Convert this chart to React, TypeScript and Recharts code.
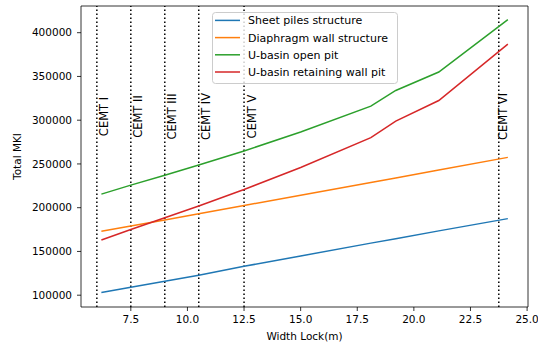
import React from "react";
import {
  LineChart,
  Line,
  XAxis,
  YAxis,
  ReferenceLine,
  Label,
} from "recharts";

const widths = [6.2, 7.5, 9.0, 10.5, 12.5, 15.0, 18.1, 19.2, 21.1, 24.15];
const sheetPiles = [103000, 109000, 115800, 122700, 133000, 144800, 159500, 164600, 173500, 187500];
const diaphragmWall = [173000, 179000, 186000, 193000, 202500, 214200, 228800, 234000, 243000, 257500];
const openPit = [215500, 225800, 237000, 248700, 264800, 286500, 316000, 334000, 355000, 415000];
const retainingWallPit = [163000, 175000, 188500, 202000, 220800, 246000, 280000, 299000, 322500, 387000];

const seriesNames = [
  "Sheet piles structure",
  "Diaphragm wall structure",
  "U-basin open pit",
  "U-basin retaining wall pit",
];
const seriesKeys = ["sheet", "diaphragm", "open", "retaining"];
const seriesColors = ["#1f77b4", "#ff7f0e", "#2ca02c", "#d62728"];

const cemtPositions = [6.0, 7.5, 9.0, 10.5, 12.5, 23.75];
const cemtLabels = ["CEMT I", "CEMT II", "CEMT III", "CEMT IV", "CEMT V", "CEMT VI"];
const cemtLabelOffsets = [11, 11.5, 11.5, 11.5, 11.5, 8.5];

const xTicks = [7.5, 10, 12.5, 15, 17.5, 20, 22.5, 25];
const yTicks = [100000, 150000, 200000, 250000, 300000, 350000, 400000];

const X_DOMAIN: [number, number] = [5.3, 25.04];
const Y_DOMAIN: [number, number] = [86500, 430500];

const data = widths.map((w, i) => ({
  x: w,
  sheet: sheetPiles[i],
  diaphragm: diaphragmWall[i],
  open: openPit[i],
  retaining: retainingWallPit[i],
}));

const FONT = "DejaVu Sans, sans-serif";

const LegendBox = () => (
  <svg width={187} height={73} style={{ display: "block" }}>
    <rect
      x={0.5}
      y={0.5}
      width={185}
      height={71}
      rx={3}
      ry={3}
      fill="rgba(255,255,255,0.8)"
      stroke="#cccccc"
      strokeWidth={1}
    />
    {seriesNames.map((n, i) => (
      <g key={n}>
        <line
          x1={3}
          x2={28}
          y1={8.4 + i * 17.2}
          y2={8.4 + i * 17.2}
          stroke={seriesColors[i]}
          strokeWidth={1.5}
        />
        <text
          x={36}
          y={8.4 + i * 17.2}
          dy="0.36em"
          fontSize={11}
          fontFamily={FONT}
          fill="#000"
        >
          {n}
        </text>
      </g>
    ))}
  </svg>
);

export default function App() {
  return (
    <div style={{ position: "absolute", left: 0, top: 0, width: 538, height: 347 }}>
      <LineChart
        width={538}
        height={347}
        data={data}
        margin={{ top: 6, right: 10, bottom: 0, left: 0 }}
        style={{ fontFamily: FONT }}
      >
        <XAxis
          dataKey="x"
          type="number"
          domain={X_DOMAIN}
          ticks={xTicks}
          allowDataOverflow
          tickFormatter={(v: number) => v.toFixed(1)}
          height={40}
          tickSize={4}
          tickMargin={5}
          stroke="#000"
          strokeWidth={0.8}
          tick={{ fill: "#000", fontSize: 10.5, fontFamily: FONT }}
        >
          <Label
            content={(props: any) => {
              const vb = props.viewBox || {};
              return (
                <text
                  x={vb.x + vb.width / 2}
                  y={340}
                  textAnchor="middle"
                  fontSize={10.5}
                  fontFamily={FONT}
                  fill="#000"
                >
                  Width Lock(m)
                </text>
              );
            }}
          />
        </XAxis>
        <YAxis
          type="number"
          domain={Y_DOMAIN}
          ticks={yTicks}
          allowDataOverflow
          width={81}
          tickSize={4}
          tickMargin={5}
          stroke="#000"
          strokeWidth={0.8}
          tick={{ fill: "#000", fontSize: 10.5, fontFamily: FONT }}
        >
          <Label
            content={(props: any) => {
              const vb = props.viewBox || {};
              const cy = vb.y + vb.height / 2;
              return (
                <text
                  transform={`translate(21, ${cy}) rotate(-90)`}
                  textAnchor="middle"
                  fontSize={10.5}
                  fontFamily={FONT}
                  fill="#000"
                >
                  Total MKI
                </text>
              );
            }}
          />
        </YAxis>
        <ReferenceLine y={Y_DOMAIN[1]} stroke="#000" strokeWidth={0.8} ifOverflow="visible" />
        <ReferenceLine x={X_DOMAIN[1]} stroke="#000" strokeWidth={0.8} ifOverflow="visible" />
        {cemtPositions.map((p, i) => (
          <ReferenceLine
            key={cemtLabels[i]}
            x={p}
            stroke="#000"
            strokeWidth={1.5}
            strokeDasharray="1.5 2.5"
            label={(props: any) => {
              const vb = props.viewBox || {};
              return (
                <text
                  transform={`translate(${vb.x + cemtLabelOffsets[i]}, 116.5) rotate(-90)`}
                  textAnchor="middle"
                  fontSize={11.5}
                  fontFamily={FONT}
                  fill="#000"
                >
                  {cemtLabels[i]}
                </text>
              );
            }}
          />
        ))}
        {seriesKeys.map((k, i) => (
          <Line
            key={k}
            dataKey={k}
            name={seriesNames[i]}
            stroke={seriesColors[i]}
            strokeWidth={1.5}
            dot={false}
            activeDot={false}
            isAnimationActive={false}
            type="linear"
          />
        ))}
      </LineChart>
      <div style={{ position: "absolute", left: 212, top: 12 }}>
        <LegendBox />
      </div>
    </div>
  );
}
